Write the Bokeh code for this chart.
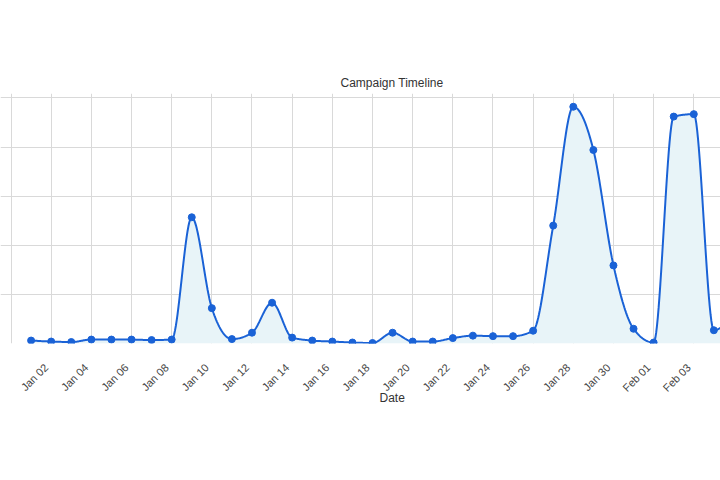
import math
import numpy as np
import pandas as pd
from bokeh.plotting import figure
from bokeh.models import Range1d, FixedTicker, DatetimeTickFormatter, Title
from bokeh.embed import file_html
from bokeh.resources import INLINE

# ---- data ----
dates = pd.date_range("2024-01-01", "2024-02-05", freq="D")
values = [6, 4, 3, 8, 8, 8, 7, 8, 257, 72, 9, 22, 83, 12, 6, 4, 2, 1, 22, 4,
          4, 11, 16, 15, 15, 26, 240, 482, 394, 159, 30, 2, 462, 467, 27, 60]
tick_dates = pd.date_range("2023-12-31", "2024-02-06", freq="2D")
y_ticks = [0, 100, 200, 300, 400, 500]
title_text = "Campaign Timeline"
x_label = "Date"

FONT = "Liberation Sans"
LINE = "#1a62d6"
FILL = "#e8f4f8"
GRID = "#d9d9d9"


def monotone_curve(xs, ys, n=24):
    """Monotone cubic (Steffen / d3 curveMonotoneX) path through the data."""
    xs = np.asarray(xs, float)
    ys = np.asarray(ys, float)
    h = np.diff(xs)
    s = np.diff(ys) / h
    m = np.zeros_like(ys)
    for i in range(1, len(ys) - 1):
        s0, s1 = s[i - 1], s[i]
        p = (s0 * h[i] + s1 * h[i - 1]) / (h[i - 1] + h[i])
        m[i] = (np.sign(s0) + np.sign(s1)) * min(abs(s0), abs(s1), 0.5 * abs(p))
    m[0] = (3 * s[0] - m[1]) / 2
    m[-1] = (3 * s[-1] - m[-2]) / 2
    cx, cy = [], []
    for i in range(len(h)):
        t = np.linspace(0, 1, n, endpoint=(i == len(h) - 1))
        h00 = 2 * t**3 - 3 * t**2 + 1
        h10 = t**3 - 2 * t**2 + t
        h01 = -2 * t**3 + 3 * t**2
        h11 = t**3 - t**2
        cy.append(h00 * ys[i] + h10 * h[i] * m[i] + h01 * ys[i + 1] + h11 * h[i] * m[i + 1])
        cx.append(xs[i] + t * h[i])
    return np.concatenate(cx), np.concatenate(cy)


base = dates[0]
day_idx = np.array([(d - base).days for d in dates], float)
cxd, cy = monotone_curve(day_idx, values)
cx = pd.to_datetime(base) + pd.to_timedelta(cxd, unit="D")

x_start = base - pd.Timedelta(days=1.524)
x_end = base + pd.Timedelta(days=34.33)

p = figure(width=720, height=480, output_backend="svg", toolbar_location=None,
           x_axis_type="datetime", y_axis_location=None,
           x_range=Range1d(x_start, x_end), y_range=Range1d(0, 509),
           min_border_left=0, min_border_right=0, min_border_top=93,
           min_border_bottom=137)
p.outline_line_color = None
p.background_fill_color = "white"
p.border_fill_color = "white"

p.varea(x=cx, y1=0, y2=cy, fill_color=FILL, fill_alpha=1.0)
p.line(x=cx, y=cy, line_color=LINE, line_width=2)
p.scatter(x=dates, y=values, size=7, fill_color=LINE, line_color=LINE)

# grid on the exact dates; axis labels anchored slightly left of their grid line
tick_ms = [d.value // 10**6 for d in tick_dates]
label_shift_ms = int(0.25 * 86400000)
label_ticks = [t - label_shift_ms for t in tick_ms]
overrides = {t: ("" if d == tick_dates[0] else d.strftime("%b %d"))
             for t, d in zip(label_ticks, tick_dates)}
p.xaxis.ticker = FixedTicker(ticks=label_ticks)
p.xaxis.major_label_overrides = overrides
fmt = "%b %d"
p.xaxis.formatter = DatetimeTickFormatter(days=fmt, months=fmt, hours=fmt,
                                          years=fmt, milliseconds=fmt,
                                          seconds=fmt, minsec=fmt,
                                          minutes=fmt, hourmin=fmt)
p.xaxis.major_label_orientation = math.pi / 4
p.xaxis.axis_line_color = None
p.xaxis.major_tick_line_color = None
p.xaxis.minor_tick_line_color = None
p.xaxis.major_tick_out = 0
p.xaxis.major_tick_in = 0
p.xaxis.major_label_standoff = 22
p.xaxis.axis_label_standoff = 0
p.xaxis.major_label_text_font = FONT
p.xaxis.major_label_text_font_size = "11px"
p.xaxis.major_label_text_color = "#444444"

p.xgrid.ticker = FixedTicker(ticks=tick_ms)
p.ygrid.ticker = FixedTicker(ticks=y_ticks)
p.xgrid.grid_line_color = GRID
p.ygrid.grid_line_color = GRID

p.add_layout(Title(text=title_text, align="left", offset=340, standoff=7,
                   text_font=FONT, text_font_size="12px",
                   text_font_style="normal", text_color="#333333"), "above")
p.add_layout(Title(text=x_label, align="left", offset=379, standoff=-22,
                   vertical_align="top",
                   text_font=FONT, text_font_size="12px",
                   text_font_style="normal", text_color="#333333"), "below")

open("out.html", "w").write(file_html(p, INLINE))
